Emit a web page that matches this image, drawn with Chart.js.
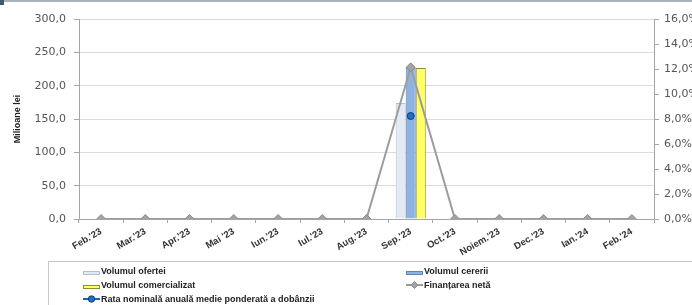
<!DOCTYPE html>
<html>
<head>
<meta charset="utf-8">
<script src="https://cdn.jsdelivr.net/npm/chart.js@4"></script>
<style>
  html, body { margin: 0; padding: 0; background: #fff; }
  #wrap { position: relative; width: 692px; height: 305px; overflow: hidden; }
  #topline { position: absolute; left: 0; top: 0; width: 692px; height: 2px; background: #a9b3bd; }
  #corner { position: absolute; left: 0; top: 0; width: 4px; height: 5px; background: #3d5b6e; }
  #legend { position: absolute; left: 48px; top: 261px; width: 700px; height: 60px;
            border: 1px solid #c8c8c8; font: bold 9px "Liberation Sans", Arial, sans-serif; color: #222; }
  .item { position: absolute; height: 12px; line-height: 12px; white-space: nowrap; }
  .sw { position: absolute; left: 0; top: 0; width: 17px; height: 12px; }
  .txt { position: absolute; left: 18px; top: 0; }
</style>
</head>
<body>
<div id="wrap">
  <canvas id="myChart" width="692" height="305"></canvas>
  <div id="topline"></div>
  <div id="corner"></div>
  <div id="legend"></div>
</div>
<script>
var labels = ["Feb.'23", "Mar.'23", "Apr.'23", "Mai '23", "Iun.'23", "Iul.'23", "Aug.'23",
              "Sep.'23", "Oct.'23", "Noiem.'23", "Dec.'23", "Ian.'24", "Feb.'24"];
var oferta =        [null, null, null, null, null, null, null, 174, null, null, null, null, null];
var cerere =        [null, null, null, null, null, null, null, 226.5, null, null, null, null, null];
var comercializat = [null, null, null, null, null, null, null, 226.5, null, null, null, null, null];
var finantare =     [0, 0, 0, 0, 0, 0, 0, 227.5, 0, 0, 0, 0, 0];
var rata =          [null, null, null, null, null, null, null, 8.24, null, null, null, null, null];
var leftTicks = [0, 50, 100, 150, 200, 250, 300];
var rightTicks = [0, 2, 4, 6, 8, 10, 12, 14, 16];

function comma(v) { return v.toFixed(1).replace('.', ','); }

function renderChart() {
  var ctx = document.getElementById("myChart").getContext('2d');
  var myChart = new Chart(ctx, {
    type: 'bar',
    data: {
      labels: labels,
      datasets: [
        { label: 'Volumul ofertei', data: oferta, backgroundColor: '#e2eaf5',
          borderColor: '#b3bfcd', borderWidth: 1, yAxisID: 'y', order: 3 },
        { label: 'Volumul cererii', data: cerere, backgroundColor: '#8fb3e0',
          borderColor: '#5f84b8', borderWidth: 1, yAxisID: 'y', order: 3 },
        { label: 'Volumul comercializat', data: comercializat, backgroundColor: '#ffff66',
          borderColor: '#8f8f2a', borderWidth: 1, yAxisID: 'y', order: 3 },
        { type: 'line', label: 'Finanțarea netă', data: finantare, borderColor: '#9c9c9c',
          borderWidth: 2, pointStyle: 'rectRot', pointRadius: 4.5, pointBackgroundColor: '#a3a3a3',
          pointBorderColor: '#8c8c8c', pointBorderWidth: 1, tension: 0, yAxisID: 'y', order: 1 },
        { type: 'line', label: 'Rata nominală anuală medie ponderată a dobânzii', data: rata,
          borderColor: '#1f63b5', borderWidth: 2, pointStyle: 'circle', pointRadius: 3.5,
          pointBackgroundColor: '#1f6fc4', pointBorderColor: '#0d3f7a', pointBorderWidth: 1,
          yAxisID: 'y1', order: 0 }
      ]
    },
    options: {
      responsive: false,
      animation: false,
      layout: { padding: { top: 19, left: 0, right: 0, bottom: 0 } },
      datasets: { bar: { barPercentage: 1, categoryPercentage: 0.68 } },
      plugins: { legend: { display: false }, tooltip: { enabled: false } },
      scales: {
        x: {
          offset: true,
          grid: { offset: true, drawOnChartArea: false, tickLength: 4, color: '#a6a6a6' },
          border: { color: '#a6a6a6' },
          ticks: { autoSkip: false, minRotation: 30, maxRotation: 30, padding: 3, color: '#333',
                   font: { family: '"Liberation Sans", Arial, sans-serif', size: 9.5, weight: 'bold' } },
          afterFit: function (s) { s.height = 86; }
        },
        y: {
          position: 'left', min: 0, max: 300,
          afterBuildTicks: function (s) { s.ticks = leftTicks.map(function (v) { return { value: v }; }); },
          grid: { color: '#dcdcdc', tickColor: '#a6a6a6', tickLength: 5 },
          border: { color: '#a6a6a6' },
          ticks: { padding: 8, color: '#555', callback: function (v) { return comma(v); },
                   font: { family: '"DejaVu Sans", sans-serif', size: 11 } },
          title: { display: true, text: 'Milioane lei', color: '#222', padding: { top: 12, bottom: 0 },
                   font: { family: '"Liberation Sans", Arial, sans-serif', size: 9, weight: 'bold' } },
          afterFit: function (s) { s.width = 79; }
        },
        y1: {
          position: 'right', min: 0, max: 16,
          afterBuildTicks: function (s) { s.ticks = rightTicks.map(function (v) { return { value: v }; }); },
          grid: { drawOnChartArea: false, tickColor: '#a6a6a6', tickLength: 5 },
          border: { color: '#a6a6a6' },
          ticks: { padding: 5, color: '#555', callback: function (v) { return comma(v) + '%'; },
                   font: { family: '"DejaVu Sans", sans-serif', size: 11 } },
          afterFit: function (s) { s.width = 38; }
        }
      }
    }
  });
  buildLegend(myChart);
}

function buildLegend(chart) {
  var box = document.getElementById('legend');
  var pos = [[34, 3], [357, 3], [34, 17], [357, 17], [34, 31]];
  chart.data.datasets.forEach(function (ds, i) {
    var it = document.createElement('div');
    it.className = 'item';
    it.style.left = pos[i][0] + 'px';
    it.style.top = pos[i][1] + 'px';
    var sw = document.createElement('canvas');
    sw.className = 'sw'; sw.width = 17; sw.height = 12;
    var c = sw.getContext('2d');
    if (ds.type === 'line') {
      c.strokeStyle = ds.borderColor; c.lineWidth = 2;
      c.beginPath(); c.moveTo(0, 6); c.lineTo(17, 6); c.stroke();
      c.fillStyle = ds.pointBackgroundColor; c.strokeStyle = ds.pointBorderColor; c.lineWidth = 1;
      c.beginPath();
      if (ds.pointStyle === 'rectRot') { c.moveTo(8.5, 2.5); c.lineTo(12, 6); c.lineTo(8.5, 9.5); c.lineTo(5, 6); c.closePath(); }
      else { c.arc(8.5, 6, 3.2, 0, Math.PI * 2); }
      c.fill(); c.stroke();
    } else {
      c.fillStyle = ds.backgroundColor; c.fillRect(0.5, 6.5, 16, 3);
      c.strokeStyle = ds.borderColor; c.lineWidth = 1; c.strokeRect(0.5, 6.5, 16, 3);
    }
    var tx = document.createElement('span');
    tx.className = 'txt'; tx.textContent = ds.label;
    it.appendChild(sw); it.appendChild(tx);
    box.appendChild(it);
  });
}

renderChart();
</script>
</body>
</html>
